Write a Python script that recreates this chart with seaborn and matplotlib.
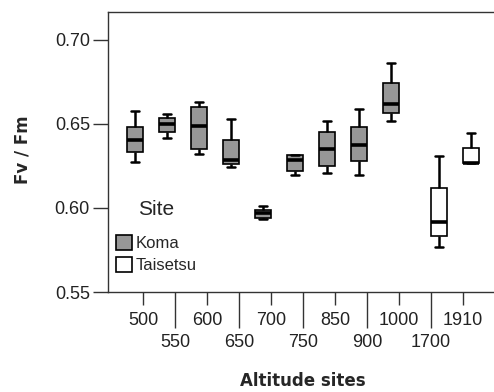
import numpy as np
import pandas as pd
import matplotlib
matplotlib.use("Agg")
import matplotlib.pyplot as plt
import seaborn as sns

# altitude sites (m) and the site each belongs to
altitudes = ["500", "550", "600", "650", "700", "750", "850", "900", "1000", "1700", "1910"]
sites = ["Koma"] * 9 + ["Taisetsu"] * 2

# five-number summaries of Fv/Fm
fv_min = [0.6274, 0.6417, 0.6323, 0.6246, 0.5934, 0.6194, 0.6206, 0.6196, 0.6516, 0.5766, 0.6270]
fv_q1 = [0.6335, 0.6450, 0.6353, 0.6260, 0.5938, 0.6222, 0.6252, 0.6278, 0.6563, 0.5831, 0.6270]
fv_med = [0.6401, 0.6500, 0.6486, 0.6282, 0.5968, 0.6284, 0.6349, 0.6377, 0.6619, 0.5915, 0.6270]
fv_q3 = [0.6484, 0.6534, 0.6603, 0.6405, 0.5990, 0.6312, 0.6454, 0.6484, 0.6744, 0.6119, 0.6355]
fv_max = [0.6579, 0.6556, 0.6627, 0.6528, 0.6014, 0.6317, 0.6518, 0.6589, 0.6861, 0.6308, 0.6446]

rows = []
for i, alt in enumerate(altitudes):
    for v in (fv_min[i], fv_q1[i], fv_med[i], fv_q3[i], fv_max[i]):
        rows.append({"altitude": alt, "site": sites[i], "fvfm": v})
df = pd.DataFrame(rows)

sns.set_style("white")
plt.rcParams["font.family"] = ["Liberation Sans", "DejaVu Sans"]

fig = plt.figure(figsize=(4.94, 3.92), dpi=100)
W, H = 494, 392
# axes runs a little past the right edge, as in the original
ax = fig.add_axes([108 / W, 1 - 292 / H, 390 / W, 280 / H])

sns.boxplot(data=df, x="altitude", y="fvfm", hue="site", order=altitudes,
            hue_order=["Koma", "Taisetsu"],
            palette={"Koma": "#979797", "Taisetsu": "white"}, saturation=1,
            width=1.0, gap=0, dodge=True, whis=(0, 100), linecolor="black",
            linewidth=1.2, medianprops={"linewidth": 2.6, "color": "black"},
            whiskerprops={"linewidth": 1.8}, capprops={"linewidth": 1.8},
            ax=ax)

ax.set_xlim(-1.1, 11.1)
ax.set_ylim(0.55, 0.7165)
ax.set_yticks([0.55, 0.60, 0.65, 0.70])
ax.set_yticklabels(["0.55", "0.60", "0.65", "0.70"])
ax.set_xticks(range(len(altitudes)))
ax.set_xticklabels(altitudes)

for s in ["left", "top", "bottom"]:
    ax.spines[s].set_color("#333333")
    ax.spines[s].set_linewidth(1.0)
ax.spines["right"].set_visible(False)

ax.tick_params(axis="x", bottom=True, direction="out", length=9.4, width=1.0,
               color="#333333", pad=5, labelsize=13, labelcolor="#222222")
ax.tick_params(axis="y", left=True, direction="out", length=11, width=1.0,
               color="#333333", pad=2, labelsize=13, labelcolor="#222222")

# staggered x labels: odd ones on a second row with longer ticks
for i, t in enumerate(ax.xaxis.get_major_ticks()):
    if i % 2 == 1:
        t.set_pad(5 + 15.5)
        t.tick1line.set_markersize(26)

ax.set_xlabel("Altitude sites", fontsize=12, fontweight="bold", family="DejaVu Sans")
ax.set_ylabel("Fv / Fm", fontsize=12, fontweight="bold", family="DejaVu Sans")
ax.xaxis.set_label_coords(0.5, -0.285)
ax.yaxis.set_label_coords(-0.197, 0.507)

handles, leg_labels = ax.get_legend_handles_labels()
leg = ax.legend(handles, leg_labels, title="Site", loc="upper left",
                bbox_to_anchor=(0.02, 0.33), frameon=False, fontsize=12,
                title_fontsize=15, borderpad=0, borderaxespad=0, handlelength=1.0,
                handleheight=1.0, handletextpad=0.2, labelspacing=0.35)
leg._legend_box.sep = 12

fig.savefig("out.png", dpi=100)
